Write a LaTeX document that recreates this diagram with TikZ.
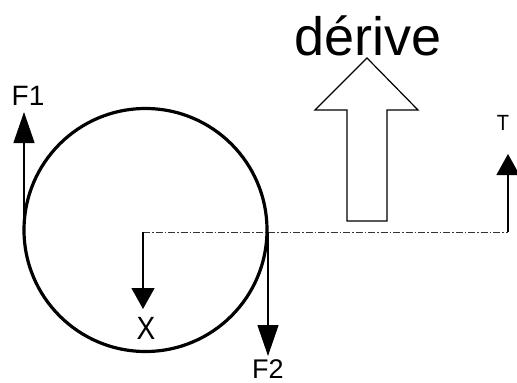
\documentclass[tikz,border=0pt]{standalone}
\usepackage{fontspec}
\setmainfont{Liberation Sans}
\usetikzlibrary{arrows.meta}

\begin{document}
\begin{tikzpicture}[x=1pt,y=-1pt,
  every node/.style={inner sep=0pt},
  label1/.style={font=\fontsize{28}{30}\selectfont},
  wheel/.style={line width=3.2pt},
  longforce/.style={line width=1.2pt,-{Triangle[length=31pt,width=21pt]}},
  shortforce/.style={line width=1.2pt,-{Triangle[length=21pt,width=23pt]}},
  axis/.style={line width=1pt,dash pattern=on 7pt off 2pt on 1.5pt off 2pt,black!80},
  bigarrow/.style={line width=1.2pt,fill=white}]
\useasboundingbox (0,0) rectangle (517,383);

% the wheel
\draw[wheel] (145.5,230) circle[radius=121.5];

% axis from the centre
\coordinate (centre) at (143,232);
\coordinate (rim) at (268,232);
\coordinate (tail) at (508,232);
\draw[axis] (centre) -- (tail);

% forces
\coordinate (f1foot) at (24,232);
\coordinate (f1tip) at (24,112);
\coordinate (f2tip) at (268,356);
\coordinate (xtip) at (143,309);
\coordinate (ttip) at (508,154);
\draw[longforce] (f1foot) -- (f1tip);
\draw[longforce] (rim) -- (f2tip);
\draw[shortforce] (centre) -- (xtip);
\draw[shortforce] (tail) -- (ttip);

\node[label1,anchor=base] (f1) at (28,105) {F1};
\node[label1,anchor=base,font=\fontsize{27}{29}\selectfont] (f2) at (268,378) {F2};
\node[anchor=base,font=\fontsize{28}{30}\selectfont,yscale=1.15,transform shape] (x) at (146,339) {X};
\node[anchor=base,font=\fontsize{20}{22}\selectfont,yscale=1.1,transform shape] (t) at (503,130) {T};

% drift arrow
\draw[bigarrow] (347,221) -- (347,110) -- (315,110) -- (367,58) -- (418,110)
  -- (387,110) -- (387,221) -- cycle;
\node[anchor=base,font=\fontsize{54}{56}\selectfont] (derive) at (368,55) {dérive};
\end{tikzpicture}
\end{document}
